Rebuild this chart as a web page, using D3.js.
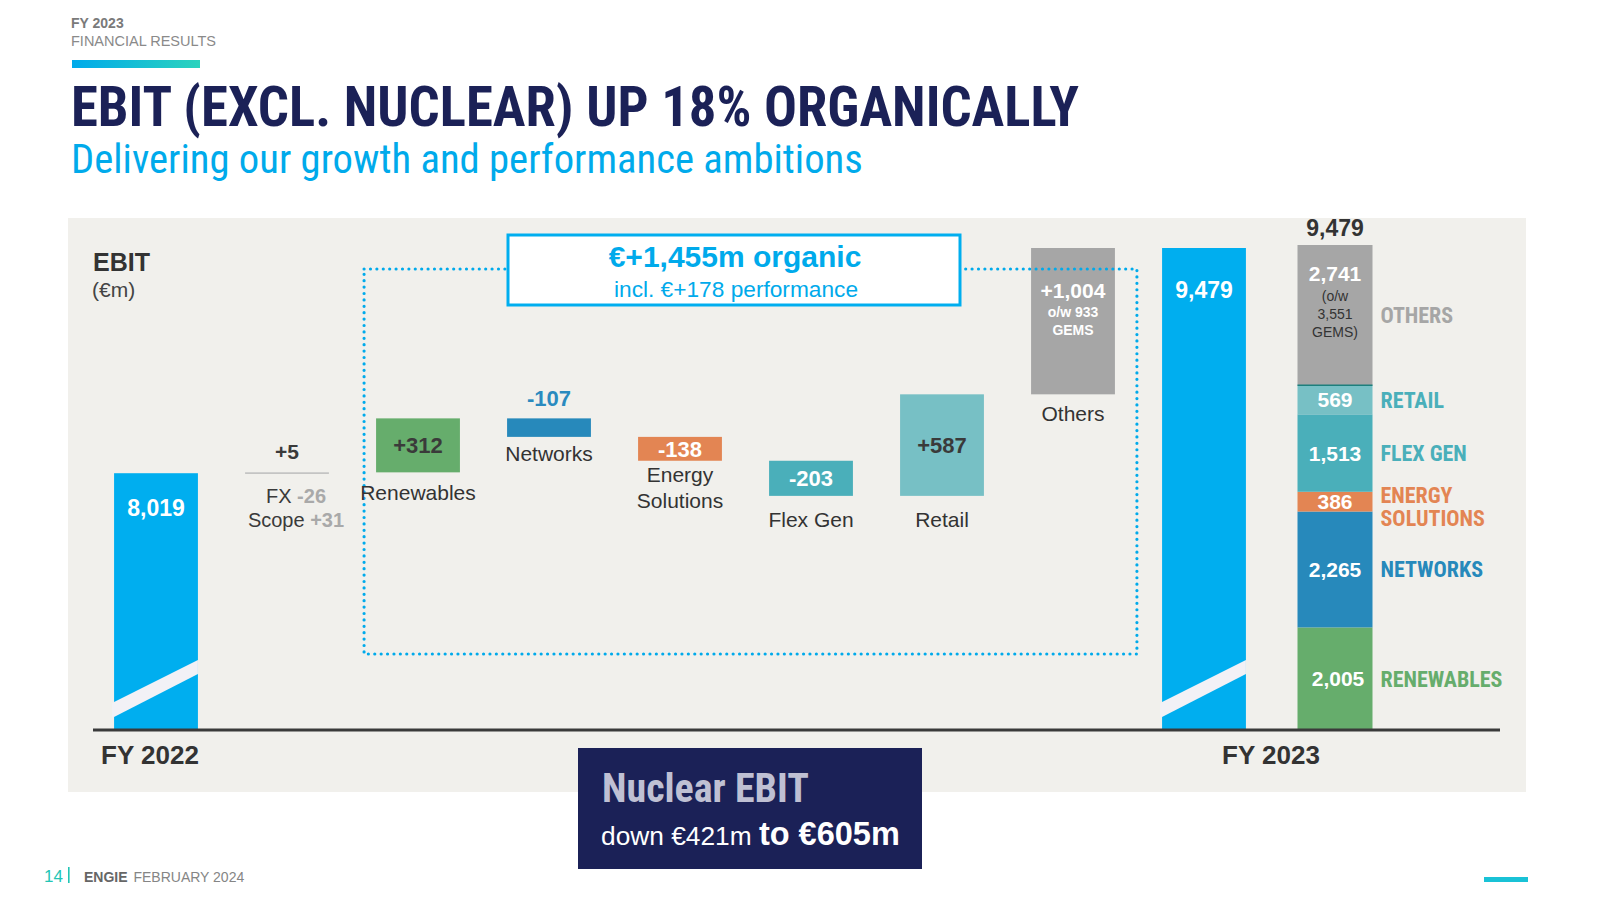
<!DOCTYPE html>
<html>
<head>
<meta charset="utf-8">
<script src="https://cdn.jsdelivr.net/npm/d3@7"></script>
<style>
  html, body { margin: 0; padding: 0; background: #ffffff; }
  svg { display: block; }
</style>
</head>
<body>
<svg id="chart" width="1600" height="900"></svg>
<script>
// ---------------- DATA ----------------
const steps = ["FY 2022", "FX/Scope", "Renewables", "Networks", "Energy Solutions", "Flex Gen", "Retail", "Others", "FY 2023", "Breakdown"];
const stepValues = [8019, 5, 312, -107, -138, -203, 587, 1004, 9479];
const stepLabels = ["", "", "Renewables", "Networks", "Energy\nSolutions", "Flex Gen", "Retail", "Others", "", ""];
const fxScopeLabels = ["FX", "Scope"];
const fxScopeValues = [-26, 31];
const othersNote = ["o/w 933", "GEMS"];

const stackCats = ["Renewables", "Networks", "Energy Solutions", "Flex Gen", "Retail", "Others"];
const stackValues = [2005, 2265, 386, 1513, 569, 2741];
const stackLabels = ["RENEWABLES", "NETWORKS", "ENERGY\nSOLUTIONS", "FLEX GEN", "RETAIL", "OTHERS"];
const stackOthersNote = ["(o/w", "3,551", "GEMS)"];

const organicTotal = 1455;
const performance = 178;
const nuclearDown = 421;
const nuclearEbit = 605;

// ---------------- STYLE ----------------
const NARROW = "'Liberation Sans Narrow', 'Arial Narrow', 'Roboto Condensed', 'DejaVu Sans Condensed', sans-serif";
const ARIAL = "'Liberation Sans', Arial, Helvetica, sans-serif";
const colors = {
  "FY 2022": "#00aeef", "FY 2023": "#00aeef",
  "FX/Scope": "#bdbdbd",
  "Renewables": "#66ad6c", "Networks": "#2789bb", "Energy Solutions": "#e38553",
  "Flex Gen": "#4aafba", "Retail": "#77c0c5", "Others": "#a6a6a6"
};
const labelColors = {
  "Renewables": "#66ad6c", "Networks": "#2789bb", "Energy Solutions": "#e38553",
  "Flex Gen": "#4aafba", "Retail": "#4aafba", "Others": "#a6a6a6"
};
// distance from bar bottom to category label baseline
const labelGap = { "Renewables": 28, "Networks": 24, "Energy Solutions": 21, "Flex Gen": 31, "Retail": 31, "Others": 27 };
const navy = "#1b2157";
const blue = "#00aaeb";

const svg = d3.select("#chart");

// ---------------- HEADER ----------------
svg.append("text").attr("x", 71).attr("y", 28).attr("font-family", ARIAL).attr("font-weight", "bold")
  .attr("font-size", 14).attr("fill", "#7a7a7a").text("FY 2023");
svg.append("text").attr("x", 71).attr("y", 46).attr("font-family", ARIAL)
  .attr("font-size", 14.5).attr("fill", "#8a8a8a").text("FINANCIAL RESULTS");
const defs = svg.append("defs");
const grad = defs.append("linearGradient").attr("id", "hdrGrad");
grad.append("stop").attr("offset", "0%").attr("stop-color", "#00aaeb");
grad.append("stop").attr("offset", "100%").attr("stop-color", "#2bd3bd");
svg.append("rect").attr("x", 72).attr("y", 60).attr("width", 128).attr("height", 8).attr("fill", "url(#hdrGrad)");

function fitWidth(sel, target) {
  const w = sel.node().getComputedTextLength();
  const fs = parseFloat(sel.attr("font-size"));
  sel.attr("font-size", fs * target / w);
}
const title = svg.append("text").attr("x", 71).attr("y", 126).attr("font-family", NARROW).attr("font-weight", "bold")
  .attr("font-size", 54).attr("fill", navy).text("EBIT (EXCL. NUCLEAR) UP 18% ORGANICALLY");
fitWidth(title, 1008);
const sub = svg.append("text").attr("x", 71).attr("y", 173).attr("font-family", NARROW)
  .attr("font-size", 38).attr("fill", blue).text("Delivering our growth and performance ambitions");
fitWidth(sub, 792);

// ---------------- PANEL ----------------
svg.append("rect").attr("x", 68).attr("y", 218).attr("width", 1458).attr("height", 574).attr("fill", "#f1f0ec");

svg.append("text").attr("x", 93).attr("y", 271).attr("font-family", ARIAL).attr("font-weight", "bold")
  .attr("font-size", 25).attr("fill", "#333").text("EBIT");
svg.append("text").attr("x", 92).attr("y", 297).attr("font-family", ARIAL)
  .attr("font-size", 21).attr("fill", "#444").text("(€m)");

// ---------------- SCALES ----------------
const x = d3.scaleBand().domain(steps).range([90.5, 1400.5]).paddingInner(0.36).paddingOuter(0.18);
const bw = x.bandwidth();
// broken (piecewise) axis for the bridge: lower part compressed
const y = d3.scaleLinear().domain([0, 7500, 8500, 9479]).range([730, 563, 390, 248]);
const yStack = d3.scaleLinear().domain([0, d3.sum(stackValues)]).range([730, 245]);

// waterfall computation
let run = 0;
const wf = stepValues.map((v, i) => {
  const name = steps[i];
  let y0, y1;
  if (name === "FY 2022" || name === "FY 2023") { y0 = 0; y1 = v; run = v; }
  else { y0 = run; y1 = run + v; run = y1; }
  return { name, v, y0, y1, lo: Math.min(y0, y1), hi: Math.max(y0, y1), label: stepLabels[i] };
});

const fmtSigned = v => d3.format("+,")(v).replace("\u2212", "-");
const fmt = d3.format(",");

// dotted organic box
const dotX0 = x("Renewables") - 12, dotX1 = x("Others") + bw + 22;
const dotY0 = 269, dotY1 = 654;

// bars
const g = svg.append("g");
wf.forEach(d => {
  g.append("rect").attr("x", x(d.name)).attr("width", bw)
    .attr("y", y(d.hi)).attr("height", Math.max(1.5, y(d.lo) - y(d.hi))).attr("fill", colors[d.name]);
});

// axis break stripes in total bars
["FY 2022", "FY 2023"].forEach(n => {
  const x0 = x(n), x1 = x(n) + bw, b = y(0);
  const pts = [[x0 - 2, b - 27], [x1, b - 70], [x1, b - 56], [x0 - 2, b - 12]];
  svg.append("polygon").attr("points", pts.map(p => p.join(",")).join(" ")).attr("fill", "#f2f1f6");
});

// dotted box
const dots = svg.append("g").attr("fill", "none").attr("stroke", blue).attr("stroke-width", 3.2)
  .attr("stroke-linecap", "round").attr("stroke-dasharray", "0 6.4");
dots.append("path").attr("d", `M${dotX0},${dotY0} L${dotX1},${dotY0} L${dotX1},${dotY1} L${dotX0},${dotY1} Z`);

// organic box
svg.append("rect").attr("x", 508).attr("y", 235).attr("width", 452).attr("height", 70)
  .attr("fill", "#fff").attr("stroke", "#00aeef").attr("stroke-width", 3);
svg.append("text").attr("x", 735).attr("y", 267).attr("text-anchor", "middle").attr("font-family", ARIAL)
  .attr("font-weight", "bold").attr("font-size", 30).attr("fill", blue).text(`€${fmtSigned(organicTotal)}m organic`);
svg.append("text").attr("x", 736).attr("y", 297).attr("text-anchor", "middle").attr("font-family", ARIAL)
  .attr("font-size", 22.7).attr("fill", blue).text(`incl. €${fmtSigned(performance)} performance`);

// value labels
const lab = svg.append("g").attr("font-family", ARIAL).attr("text-anchor", "middle");
wf.forEach(d => {
  const cx = x(d.name) + bw / 2;
  const top = y(d.hi), bot = y(d.lo);
  if (d.name === "FY 2022" || d.name === "FY 2023") {
    lab.append("text").attr("x", cx).attr("y", top + (d.name === "FY 2022" ? 43 : 50)).attr("font-weight", "bold")
      .attr("font-size", 23).attr("fill", "#fff").text(fmt(d.v));
  } else if (d.name === "FX/Scope") {
    lab.append("text").attr("x", cx).attr("y", 459).attr("font-weight", "bold").attr("font-size", 21)
      .attr("fill", "#3a3a3a").text(fmtSigned(d.v));
    fxScopeLabels.forEach((t, i) => {
      const tx = lab.append("text").attr("x", cx + 9).attr("y", 503 + i * 24).attr("font-size", 20).attr("fill", "#3a3a3a");
      tx.append("tspan").text(t + " ");
      tx.append("tspan").attr("fill", "#a9a9a9").attr("font-weight", "bold").text(fmtSigned(fxScopeValues[i]));
    });
  } else {
    const dark = (d.name === "Renewables" || d.name === "Retail");
    if (d.name === "Networks") {
      lab.append("text").attr("x", cx).attr("y", top - 12).attr("font-weight", "bold").attr("font-size", 22)
        .attr("fill", "#2a8abf").text(fmtSigned(d.v));
    } else if (d.name === "Others") {
      lab.append("text").attr("x", cx).attr("y", top + 50).attr("font-weight", "bold").attr("font-size", 21)
        .attr("fill", "#fff").text(fmtSigned(d.v));
      othersNote.forEach((t, i) => lab.append("text").attr("x", cx).attr("y", top + 69 + i * 18)
        .attr("font-weight", "bold").attr("font-size", 14).attr("fill", "#fff").text(t));
    } else {
      lab.append("text").attr("x", cx).attr("y", (top + bot) / 2).attr("dy", "0.36em").attr("font-weight", "bold")
        .attr("font-size", 22).attr("fill", dark ? "#3a3a3a" : "#fff").text(fmtSigned(d.v));
    }
    const lines = d.label.split("\n");
    lines.forEach((t, i) => lab.append("text").attr("x", cx).attr("y", bot + labelGap[d.name] + i * 26)
      .attr("font-size", 21).attr("fill", "#333").text(t));
  }
});

// ---------------- STACKED BREAKDOWN ----------------
const sw = 75;
const sx = x("Breakdown") + (bw - sw) / 2;
let acc = 0;
const stackData = stackValues.map((v, i) => { const s = { name: stackCats[i], v, y0: acc, y1: acc + v, label: stackLabels[i] }; acc += v; return s; });
stackData.forEach(s => {
  svg.append("rect").attr("x", sx).attr("width", sw).attr("y", yStack(s.y1)).attr("height", yStack(s.y0) - yStack(s.y1))
    .attr("fill", colors[s.name]);
});
// separator line on top of retail
const ret = stackData.find(s => s.name === "Retail");
svg.append("line").attr("x1", sx).attr("x2", sx + sw).attr("y1", yStack(ret.y1)).attr("y2", yStack(ret.y1))
  .attr("stroke", "#1d7f7c").attr("stroke-width", 1.5);

stackData.forEach(s => {
  const cx = sx + sw / 2;
  const mid = (yStack(s.y0) + yStack(s.y1)) / 2;
  if (s.name === "Others") {
    const t = yStack(s.y1);
    svg.append("text").attr("x", cx).attr("y", t + 36).attr("text-anchor", "middle").attr("font-family", ARIAL)
      .attr("font-weight", "bold").attr("font-size", 21).attr("fill", "#fff").text(fmt(s.v));
    stackOthersNote.forEach((n, i) => svg.append("text").attr("x", cx).attr("y", t + 56 + i * 18)
      .attr("text-anchor", "middle").attr("font-family", ARIAL).attr("font-size", 14).attr("fill", "#333").text(n));
  } else {
    svg.append("text").attr("x", cx + (s.name === "Renewables" ? 3 : 0)).attr("y", mid).attr("dy", "0.36em")
      .attr("text-anchor", "middle").attr("font-family", ARIAL).attr("font-weight", "bold")
      .attr("font-size", 21).attr("fill", "#fff").text(fmt(s.v));
  }
  const lines = s.label.split("\n");
  const ly = mid - (lines.length - 1) * 23 / 2 + (s.name === "Energy Solutions" ? 5 : 0);
  lines.forEach((t, i) => svg.append("text").attr("x", sx + sw + 8).attr("y", ly + i * 23).attr("dy", "0.36em")
    .attr("font-family", NARROW).attr("font-weight", "bold").attr("font-size", 22)
    .attr("fill", labelColors[s.name]).text(t));
});
svg.append("text").attr("x", sx + sw / 2).attr("y", yStack(acc) - 9).attr("text-anchor", "middle").attr("font-family", ARIAL)
  .attr("font-weight", "bold").attr("font-size", 23).attr("fill", "#333").text(fmt(acc));

// baseline axis
svg.append("line").attr("x1", 93).attr("x2", 1500).attr("y1", y(0)).attr("y2", y(0))
  .attr("stroke", "#3a3a3a").attr("stroke-width", 3);

// FY labels
svg.append("text").attr("x", x("FY 2022") + bw / 2 - 6).attr("y", 764).attr("text-anchor", "middle").attr("font-family", ARIAL)
  .attr("font-weight", "bold").attr("font-size", 26).attr("fill", "#333").text("FY 2022");
svg.append("text").attr("x", 1271).attr("y", 764).attr("text-anchor", "middle").attr("font-family", ARIAL)
  .attr("font-weight", "bold").attr("font-size", 26).attr("fill", "#333").text("FY 2023");

// ---------------- NUCLEAR BOX ----------------
svg.append("rect").attr("x", 578).attr("y", 748).attr("width", 344).attr("height", 121).attr("fill", navy);
const nuc = svg.append("text").attr("x", 602).attr("y", 802).attr("font-family", NARROW).attr("font-weight", "bold")
  .attr("font-size", 41).attr("fill", "#bfc0d3").text("Nuclear EBIT");
fitWidth(nuc, 207);
const nt = svg.append("text").attr("x", 601).attr("y", 845).attr("font-family", ARIAL).attr("fill", "#fff");
nt.append("tspan").attr("font-size", 26.3).text(`down €${nuclearDown}m `);
nt.append("tspan").attr("font-size", 32.5).attr("font-weight", "bold").text(`to €${nuclearEbit}m`);

// ---------------- FOOTER ----------------
svg.append("text").attr("x", 44).attr("y", 882).attr("font-family", ARIAL).attr("font-size", 17).attr("fill", "#22c5b5").text("14");
svg.append("rect").attr("x", 68).attr("y", 867).attr("width", 1.6).attr("height", 16).attr("fill", "#22c5b5");
const ft = svg.append("text").attr("x", 84).attr("y", 882).attr("font-family", ARIAL).attr("font-size", 14).attr("fill", "#858585");
ft.append("tspan").attr("font-weight", "bold").attr("fill", "#666").text("ENGIE ");
ft.append("tspan").attr("dx", 2).text("FEBRUARY 2024");
svg.append("rect").attr("x", 1484).attr("y", 877).attr("width", 44).attr("height", 5).attr("fill", "#19c2d6");
</script>
</body>
</html>
